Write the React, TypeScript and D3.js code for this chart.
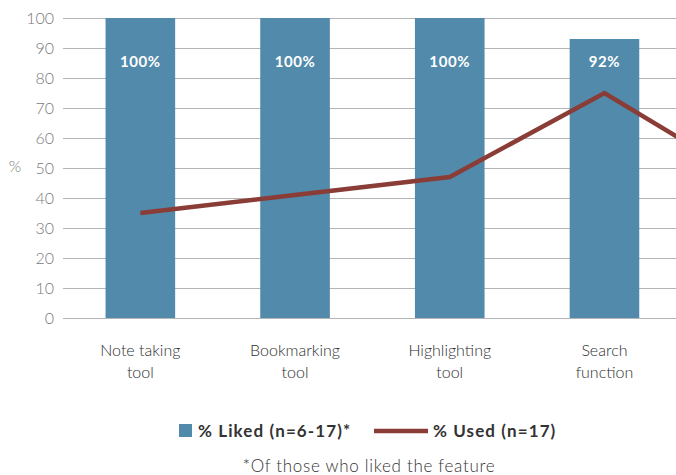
import * as d3 from 'd3';
import React, { useEffect, useRef } from 'react';

// The source chart is cropped on the right: a fifth category only shows as the line leaving the frame.
const categories = ['Note taking\ntool', 'Bookmarking\ntool', 'Highlighting\ntool', 'Search\nfunction', ''];
const liked: (number | null)[] = [100, 100, 100, 93, null];
const likedLabels = ['100%', '100%', '100%', '92%', ''];
const used = [35, 41, 47, 75, 44];
const yTicks = [0, 10, 20, 30, 40, 50, 60, 70, 80, 90, 100];

const width = 676;
const height = 475;

const App: React.FC = () => {
  const svgRef = useRef<SVGSVGElement>(null);

  useEffect(() => {
    if (!svgRef.current) return;
    const svg = d3.select(svgRef.current);
    svg.selectAll('*').remove();

    const left = 63;
    const top = 18;
    const bottom = 318;

    const x = d3.scaleBand<number>()
      .domain(categories.map((_, i) => i))
      .range([left, left + 5 * 154.7])
      .paddingInner(0.55)
      .paddingOuter(0.275);

    const y = d3.scaleLinear().domain([0, 100]).range([bottom, top]);

    // grid
    svg.append('g')
      .selectAll('line')
      .data(yTicks)
      .join('line')
      .attr('x1', left)
      .attr('x2', width)
      .attr('y1', d => Math.round(y(d)) + 0.5)
      .attr('y2', d => Math.round(y(d)) + 0.5)
      .attr('stroke', '#b4b4b4')
      .attr('stroke-width', 1.2);

    // y tick labels
    svg.append('g')
      .selectAll('text')
      .data(yTicks)
      .join('text')
      .attr('x', 54)
      .attr('y', d => y(d))
      .attr('dy', '0.35em')
      .attr('text-anchor', 'end')
      .style('font-family', 'Lato, sans-serif')
      .style('font-weight', 300)
      .style('font-size', '16px')
      .attr('fill', '#7a7a7a')
      .text(d => d);

    svg.append('text')
      .attr('x', 15)
      .attr('y', 166)
      .attr('dy', '0.35em')
      .attr('text-anchor', 'middle')
      .style('font-family', 'Lato, sans-serif')
      .style('font-weight', 300)
      .style('font-size', '16px')
      .attr('fill', '#7a7a7a')
      .text('%');

    // bars
    const barData = liked.map((v, i) => ({ v, i })).filter(d => d.v !== null) as { v: number; i: number }[];
    svg.append('g')
      .selectAll('rect')
      .data(barData)
      .join('rect')
      .attr('x', d => x(d.i)!)
      .attr('width', x.bandwidth())
      .attr('y', d => y(d.v))
      .attr('height', d => y(0) - y(d.v))
      .attr('fill', '#518aab');

    svg.append('g')
      .selectAll('text')
      .data(barData)
      .join('text')
      .attr('x', d => x(d.i)! + x.bandwidth() / 2)
      .attr('y', 62)
      .attr('dy', '0.35em')
      .attr('text-anchor', 'middle')
      .style('font-family', 'Lato, sans-serif')
      .style('font-weight', 700)
      .style('font-size', '15px')
      .style('letter-spacing', '0.6px')
      .attr('fill', '#ffffff')
      .text(d => likedLabels[d.i]);

    // line
    const line = d3.line<number>()
      .x((_, i) => x(i)! + x.bandwidth() / 2)
      .y(d => y(d));

    svg.append('path')
      .datum(used)
      .attr('d', line)
      .attr('fill', 'none')
      .attr('stroke', '#8a3c37')
      .attr('stroke-width', 4.5)
      .attr('stroke-linejoin', 'miter');

    // category labels
    const catG = svg.append('g');
    categories.forEach((c, i) => {
      const t = catG.append('text')
        .attr('x', x(i)! + x.bandwidth() / 2)
        .attr('y', 356)
        .attr('text-anchor', 'middle')
        .style('font-family', 'Lato, sans-serif')
        .style('font-weight', 300)
        .style('font-size', '16px')
        .attr('fill', '#2e2e2e');
      c.split('\n').forEach((part, j) => {
        t.append('tspan')
          .attr('x', x(i)! + x.bandwidth() / 2)
          .attr('dy', j === 0 ? 0 : 22)
          .text(part);
      });
    });

    // legend
    const leg = svg.append('g');
    leg.append('rect')
      .attr('x', 179)
      .attr('y', 424)
      .attr('width', 13)
      .attr('height', 13)
      .attr('fill', '#518aab');
    leg.append('text')
      .attr('x', 198)
      .attr('y', 431)
      .attr('dy', '0.35em')
      .style('font-family', 'Lato, sans-serif')
      .style('font-weight', 700)
      .style('font-size', '17px')
      .style('letter-spacing', '1.1px')
      .attr('fill', '#333333')
      .text('% Liked (n=6-17)*');
    leg.append('line')
      .attr('x1', 374)
      .attr('x2', 428)
      .attr('y1', 431)
      .attr('y2', 431)
      .attr('stroke', '#8a3c37')
      .attr('stroke-width', 4.5);
    leg.append('text')
      .attr('x', 433)
      .attr('y', 431)
      .attr('dy', '0.35em')
      .style('font-family', 'Lato, sans-serif')
      .style('font-weight', 700)
      .style('font-size', '17px')
      .style('letter-spacing', '1.1px')
      .attr('fill', '#333333')
      .text('% Used (n=17)');

    svg.append('text')
      .attr('x', 369)
      .attr('y', 466)
      .attr('dy', '0.35em')
      .attr('text-anchor', 'middle')
      .style('font-family', 'Lato, sans-serif')
      .style('font-weight', 300)
      .style('font-size', '17px')
      .style('letter-spacing', '0.7px')
      .attr('fill', '#333333')
      .text('*Of those who liked the feature');
  }, []);

  return (
    <div style={{ position: 'fixed', left: 0, top: 0, width, height, overflow: 'hidden', background: '#fff' }}>
      <svg ref={svgRef} width={width} height={height} style={{ display: 'block' }} />
    </div>
  );
};

export default App;
